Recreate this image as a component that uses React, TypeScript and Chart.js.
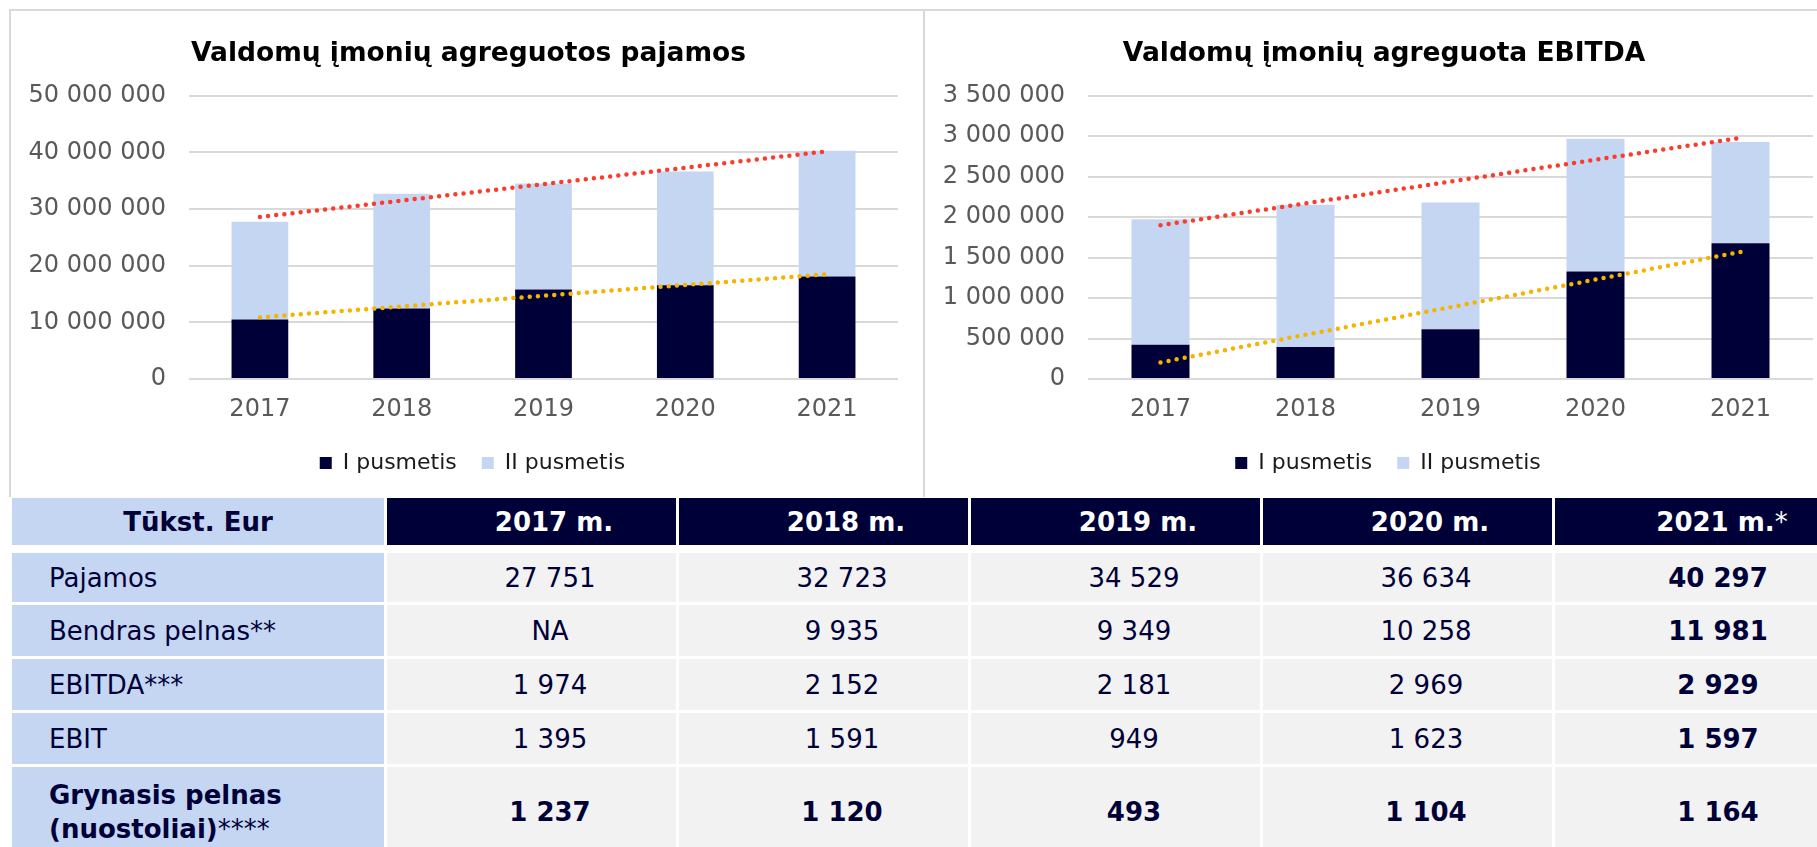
import React, { useEffect, useRef } from 'react';
import { Chart, registerables } from 'chart.js';

Chart.register(...registerables);

// ---------- DATA ----------
const categories = ['2017', '2018', '2019', '2020', '2021'];

// Chart 1: revenue (EUR)
const revenueH1 = [10500000, 12450000, 15800000, 16550000, 18100000];
const revenueH2 = [17251000, 20273000, 18729000, 20084000, 22197000];
const revenueTotalTrend = [28600000, 40200000]; // trend line start (2017) / end (2021)
const revenueH1Trend = [10900000, 18500000];

// Chart 2: EBITDA (EUR)
const ebitdaH1 = [423000, 394000, 614000, 1329000, 1677000];
const ebitdaH2 = [1551000, 1758000, 1567000, 1640000, 1252000];
const ebitdaTotalTrend = [1900000, 2980000];
const ebitdaH1Trend = [205000, 1570000];

// Table
const tableCorner = 'Tūkst. Eur';
const tableYears = ['2017 m.', '2018 m.', '2019 m.', '2020 m.', '2021 m.'];
const rowPajamos = ['27 751', '32 723', '34 529', '36 634', '40 297'];
const rowBendras = ['NA', '9 935', '9 349', '10 258', '11 981'];
const rowEbitda = ['1 974', '2 152', '2 181', '2 969', '2 929'];
const rowEbit = ['1 395', '1 591', '949', '1 623', '1 597'];
const rowGrynasis = ['1 237', '1 120', '493', '1 104', '1 164'];

// ---------- STYLE ----------
const FONT = "'DejaVu Sans', Verdana, sans-serif";
const NAVY = '#000038';
const LIGHT = '#C5D6F2';
const RED = '#FA3C2C';
const GOLD = '#F5B400';
const GRID = '#D9D9D9';
const TICK = '#595959';

function fmt(v: number | string) {
  return String(v).replace(/\B(?=(\d{3})+(?!\d))/g, ' ');
}

type ChartProps = {
  title: string;
  h1: number[];
  h2: number[];
  totalTrend: number[];
  h1Trend: number[];
  max: number;
  step: number;
  width: number;
  height: number;
  left: number;
  top: number;
  padLeft: number;
  padRight: number;
  yWidth: number;
  titleDx: number;
  legendDx: number;
};

function StackedChart(p: ChartProps) {
  const ref = useRef<HTMLCanvasElement>(null);
  useEffect(() => {
    const first = categories[0];
    const last = categories[categories.length - 1];
    const shiftPlugin = {
      id: 'shiftBlocks',
      afterLayout(chart: any) {
        const t = chart.titleBlock;
        if (t) { t.left += p.titleDx; t.right += p.titleDx; }
        const l = chart.legend;
        if (l) { l.left += p.legendDx; l.right += p.legendDx; }
      },
    };
    const chart = new Chart(ref.current as HTMLCanvasElement, {
      type: 'bar',
      data: {
        labels: categories,
        datasets: [
          { label: 'I pusmetis', data: p.h1, backgroundColor: NAVY, stack: 'bars', order: 1, barPercentage: 0.4, categoryPercentage: 1 },
          { label: 'II pusmetis', data: p.h2, backgroundColor: LIGHT, stack: 'bars', order: 1, barPercentage: 0.4, categoryPercentage: 1 },
          {
            type: 'line', label: 'trendTotal', stack: 'tTotal', order: 0,
            data: [{ x: first, y: p.totalTrend[0] }, { x: last, y: p.totalTrend[1] }],
            borderColor: RED, backgroundColor: RED, borderWidth: 4.5, borderDash: [0, 8.2], borderCapStyle: 'round',
            pointRadius: 0, fill: false,
          } as any,
          {
            type: 'line', label: 'trendH1', stack: 'tH1', order: 0,
            data: [{ x: first, y: p.h1Trend[0] }, { x: last, y: p.h1Trend[1] }],
            borderColor: GOLD, backgroundColor: GOLD, borderWidth: 4.5, borderDash: [0, 8.2], borderCapStyle: 'round',
            pointRadius: 0, fill: false,
          } as any,
        ],
      },
      options: {
        responsive: false,
        animation: false,
        layout: { padding: { left: p.padLeft, right: p.padRight, top: 0, bottom: 13 } },
        plugins: {
          title: {
            display: true,
            text: p.title,
            color: '#000',
            font: { family: FONT, size: 26.5, weight: 'bold' },
            padding: { top: 28, bottom: 26 },
          },
          legend: {
            position: 'bottom',
            labels: {
              font: { family: FONT, size: 22 },
              color: '#1a1a1a',
              boxWidth: 12,
              boxHeight: 12,
              padding: 25,
              filter: (item: any) => item.datasetIndex < 2,
            },
          },
          tooltip: { enabled: false },
        },
        scales: {
          x: {
            stacked: true,
            grid: { display: false },
            border: { display: false },
            ticks: { font: { family: FONT, size: 24 }, color: TICK, padding: 8 },
            afterFit: (s: any) => { s.height = 48; },
          },
          y: {
            stacked: true,
            min: 0,
            max: p.max,
            grid: { color: GRID, lineWidth: 2, drawTicks: false },
            border: { display: false },
            ticks: {
              stepSize: p.step,
              font: { family: FONT, size: 24 },
              color: TICK,
              padding: 23,
              callback: (v: any) => fmt(v),
            },
            afterFit: (s: any) => { s.width = p.yWidth; },
          },
        },
      } as any,
      plugins: [shiftPlugin as any],
    });
    return () => chart.destroy();
  }, []);
  return (
    <canvas
      ref={ref}
      width={p.width}
      height={p.height}
      style={{ position: 'absolute', left: p.left, top: p.top, width: p.width, height: p.height }}
    />
  );
}

// ---------- TABLE ----------
const colLeft = [12, 387, 679, 971, 1263, 1555];
const colWidth = [372, 289, 289, 289, 289, 289];
const rowTop = [498, 553, 605, 659, 713, 767];
const rowHeight = [47, 49, 51, 51, 51, 90];

function Cell(props: { r: number; c: number; bg: string; children?: React.ReactNode; align?: 'left' | 'center'; padLeft?: number; color?: string; bold?: boolean }) {
  const { r, c, bg, children, align = 'center', padLeft = 0, color = NAVY, bold = false } = props;
  return (
    <div
      style={{
        position: 'absolute',
        left: colLeft[c],
        top: rowTop[r],
        width: colWidth[c],
        height: rowHeight[r],
        background: bg,
        display: 'flex',
        alignItems: 'center',
        justifyContent: align === 'left' ? 'flex-start' : 'center',
        paddingLeft: padLeft,
        boxSizing: 'border-box',
        color,
        fontWeight: bold ? 'bold' : 'normal',
        fontSize: 26,
        fontFamily: FONT,
        whiteSpace: 'nowrap',
        lineHeight: '34px',
      }}
    >
      <div>{children}</div>
    </div>
  );
}

function DataTable() {
  const rows: { label: React.ReactNode; values: string[]; boldAll?: boolean }[] = [
    { label: 'Pajamos', values: rowPajamos },
    { label: 'Bendras pelnas**', values: rowBendras },
    { label: 'EBITDA***', values: rowEbitda },
    { label: 'EBIT', values: rowEbit },
    {
      label: (
        <span>
          <b>Grynasis pelnas</b>
          <br />
          <b>(nuostoliai)</b>****
        </span>
      ),
      values: rowGrynasis,
      boldAll: true,
    },
  ];
  const cells: React.ReactNode[] = [];
  cells.push(
    <Cell key="corner" r={0} c={0} bg={LIGHT} bold>
      {tableCorner}
    </Cell>
  );
  tableYears.forEach((y, i) => {
    const isLast = i === tableYears.length - 1;
    cells.push(
      <Cell key={'h' + i} r={0} c={i + 1} bg={NAVY} color="#fff" bold padLeft={45}>
        {y}
        {isLast ? <span style={{ fontWeight: 'normal' }}>*</span> : null}
      </Cell>
    );
  });
  rows.forEach((row, ri) => {
    cells.push(
      <Cell key={'l' + ri} r={ri + 1} c={0} bg={LIGHT} align="left" padLeft={37}>
        {row.label}
      </Cell>
    );
    row.values.forEach((v, ci) => {
      const bold = row.boldAll || ci === row.values.length - 1;
      cells.push(
        <Cell key={'v' + ri + '-' + ci} r={ri + 1} c={ci + 1} bg="#F2F2F2" padLeft={37} bold={bold}>
          {v}
        </Cell>
      );
    });
  });
  return <>{cells}</>;
}

export default function App() {
  return (
    <div
      style={{
        position: 'absolute',
        left: 0,
        top: 0,
        width: 1817,
        height: 847,
        overflow: 'hidden',
        background: '#fff',
        fontFamily: FONT,
      }}
    >
      <StackedChart
        title="Valdomų įmonių agreguotos pajamos"
        h1={revenueH1}
        h2={revenueH2}
        totalTrend={revenueTotalTrend}
        h1Trend={revenueH1Trend}
        max={50000000}
        step={10000000}
        width={914}
        height={487}
        left={10}
        top={10}
        padLeft={15}
        padRight={26}
        yWidth={164}
        titleDx={7}
        legendDx={11}
      />
      <StackedChart
        title="Valdomų įmonių agreguota EBITDA"
        h1={ebitdaH1}
        h2={ebitdaH2}
        totalTrend={ebitdaTotalTrend}
        h1Trend={ebitdaH1Trend}
        max={3500000}
        step={500000}
        width={892}
        height={487}
        left={925}
        top={10}
        padLeft={16}
        padRight={4}
        yWidth={147}
        titleDx={7}
        legendDx={11}
      />
      <div style={{ position: 'absolute', left: 9, top: 9, width: 1808, height: 2, background: GRID }} />
      <div style={{ position: 'absolute', left: 9, top: 9, width: 2, height: 488, background: GRID }} />
      <div style={{ position: 'absolute', left: 923, top: 9, width: 2, height: 488, background: GRID }} />
      <DataTable />
    </div>
  );
}
